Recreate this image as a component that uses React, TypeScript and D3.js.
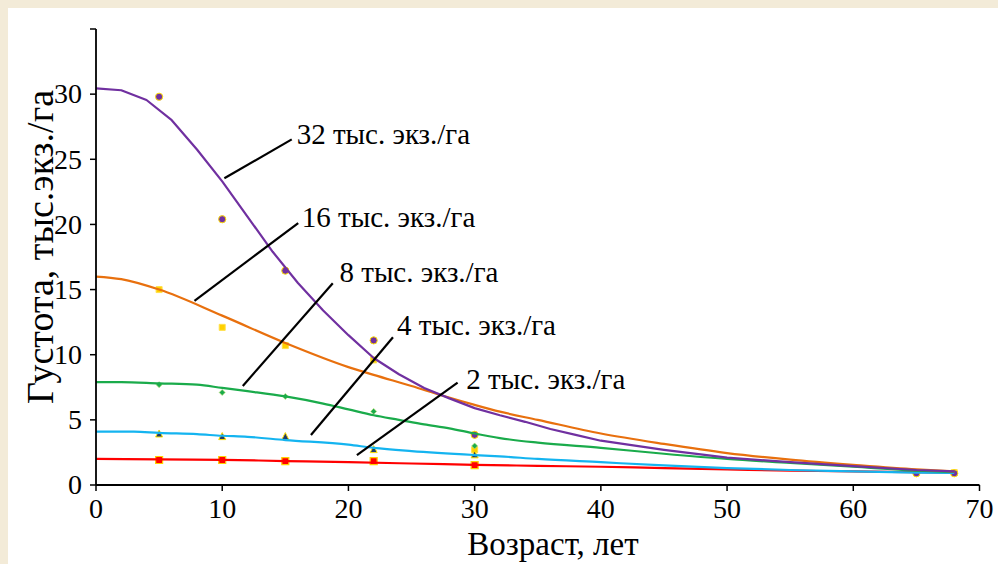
import React from "react";
import * as d3 from "d3";

// ---- model curves ----
const ages32 = [0, 2, 4, 6, 8, 10, 12, 14, 16, 18, 20, 22, 24, 26, 28, 30, 32, 34, 36, 38, 40, 45, 50, 55, 60, 65, 68];
const vals32 = [30.45, 30.3, 29.55, 28.0, 25.75, 23.3, 20.6, 17.9, 15.5, 13.4, 11.5, 9.75, 8.5, 7.45, 6.65, 5.9, 5.35, 4.85, 4.3, 3.85, 3.4, 2.7, 2.1, 1.75, 1.45, 1.15, 1.05];
const ages16 = [0, 2, 5, 10, 15, 20, 22, 25, 27.5, 30, 32, 35, 40, 45, 50, 55, 60, 65, 68];
const vals16 = [16.0, 15.8, 15.0, 13.0, 10.9, 9.05, 8.45, 7.6, 6.85, 6.15, 5.63, 5.0, 3.95, 3.15, 2.45, 1.95, 1.55, 1.2, 1.05];
const ages8 = [0, 2, 5, 8, 10, 12, 15, 18, 20, 22, 24, 26, 28, 30, 32, 35, 40, 45, 50, 55, 60, 65, 68];
const vals8 = [7.9, 7.9, 7.8, 7.7, 7.45, 7.2, 6.8, 6.25, 5.8, 5.35, 5.0, 4.65, 4.35, 3.95, 3.6, 3.25, 2.85, 2.4, 2.0, 1.7, 1.4, 1.1, 1.0];
const ages4 = [0, 3, 5, 8, 10, 12, 15, 20, 22, 25, 30, 32, 35, 40, 45, 50, 55, 60, 65, 68];
const vals4 = [4.1, 4.1, 4.0, 3.9, 3.78, 3.7, 3.45, 3.1, 2.85, 2.6, 2.3, 2.2, 2.0, 1.75, 1.5, 1.3, 1.15, 1.05, 0.95, 0.92];
const ages2 = [0, 5, 10, 15, 20, 25, 30, 35, 40, 45, 50, 55, 60, 65, 68];
const vals2 = [2.0, 1.97, 1.93, 1.84, 1.75, 1.65, 1.55, 1.47, 1.4, 1.3, 1.2, 1.1, 1.05, 0.98, 0.95];

// ---- observed points ----
const obsAges32 = [5, 10, 15, 22, 30, 65, 68];
const obsVals32 = [29.8, 20.4, 16.45, 11.1, 3.85, 0.9, 0.9];
const obsAges16 = [5, 10, 15, 22, 30, 68];
const obsVals16 = [15.0, 12.1, 10.7, 9.6, 2.7, 0.95];
const obsAges8 = [5, 10, 15, 22, 30];
const obsVals8 = [7.7, 7.1, 6.8, 5.65, 3.0];
const obsAges4 = [5, 10, 15, 22, 30];
const obsVals4 = [3.9, 3.7, 3.7, 2.7, 2.3];
const obsAges2 = [5, 10, 15, 22, 30];
const obsVals2 = [1.92, 1.92, 1.84, 1.84, 1.53];

// ---- annotations (data coords) ----
const labelTexts = ["32 тыс. экз./га", "16 тыс. экз./га", "8 тыс. экз./га", "4 тыс. экз./га", "2 тыс. экз./га"];
const leaderFrom = [[10.17, 23.54], [7.8, 14.14], [11.63, 7.6], [17.03, 3.84], [20.67, 2.3]];
const leaderTo = [[15.51, 26.53], [16.02, 20.1], [18.76, 15.48], [23.53, 11.34], [28.65, 7.85]];
const labelPos = [[15.9, 26.2], [16.31, 19.82], [19.29, 15.56], [23.85, 11.51], [29.34, 7.34]];

const xTicks = [0, 10, 20, 30, 40, 50, 60, 70];
const yTicks = [0, 5, 10, 15, 20, 25, 30, 35];
const yTickLabels = ["0", "5", "10", "15", "20", "25", "30", ""];

const W = 998;
const H = 564;
const tStyle = { fontFamily: "Liberation Serif" };

export default function App() {
  const x = d3.scaleLinear().domain([0, 70]).range([96, 979.5]);
  const y = d3.scaleLinear().domain([0, 35]).range([485, 29]);
  const line = (ages: number[], vals: number[], curve: d3.CurveFactory) =>
    d3
      .line<number>()
      .x((_, i) => x(ages[i]))
      .y((v) => y(v))
      .curve(curve)(vals) as string;

  const curves = [
    { a: ages2, v: vals2, c: "#ff0000", k: d3.curveMonotoneX },
    { a: ages4, v: vals4, c: "#14b4f0", k: d3.curveMonotoneX },
    { a: ages8, v: vals8, c: "#1aab4b", k: d3.curveMonotoneX },
    { a: ages16, v: vals16, c: "#e8700e", k: d3.curveMonotoneX },
    { a: ages32, v: vals32, c: "#7030a0", k: d3.curveLinear },
  ];

  const sq = (cx: number, cy: number, s: number) => `M${cx - s / 2},${cy - s / 2}h${s}v${s}h${-s}Z`;
  const tri = (cx: number, cy: number, s: number) =>
    `M${cx},${cy - s * 0.6}L${cx + s / 2},${cy + s * 0.4}L${cx - s / 2},${cy + s * 0.4}Z`;
  const dia = (cx: number, cy: number, s: number) =>
    `M${cx},${cy - s / 2}L${cx + s / 2},${cy}L${cx},${cy + s / 2}L${cx - s / 2},${cy}Z`;

  return (
    <svg width={W} height={H} style={{ position: "absolute", left: 0, top: 0, display: "block" }}>
      <rect x={0} y={0} width={W} height={H} fill="#f3ebd8" />
      <rect x={8} y={8} width={W - 8} height={H - 8} fill="#ffffff" />

      {/* observed markers */}
      {obsAges16.map((a, i) => (
        <path key={"o16" + i} d={sq(x(a), y(obsVals16[i]), 6)} fill="#ffd000" stroke="#ffe04a" strokeWidth={1} />
      ))}
      {obsAges8.map((a, i) => (
        <path key={"o8" + i} d={dia(x(a), y(obsVals8[i]), 6)} fill="#1aab4b" stroke="#b8e07a" strokeWidth={0.7} />
      ))}
      {obsAges4.map((a, i) => (
        <path key={"o4" + i} d={tri(x(a), y(obsVals4[i]), 7)} fill="#1f3a6e" stroke="#ffe000" strokeWidth={1} />
      ))}
      {obsAges2.map((a, i) => (
        <path key={"o2" + i} d={sq(x(a), y(obsVals2[i]), 7)} fill="#ff0000" stroke="#ffd000" strokeWidth={1.2} />
      ))}
      {obsAges32.map((a, i) => (
        <circle key={"o32" + i} cx={x(a)} cy={y(obsVals32[i])} r={3.6} fill="#7030a0" stroke="#ffe000" strokeWidth={1} />
      ))}

      {/* model curves */}
      {curves.map((c, i) => (
        <path key={"c" + i} d={line(c.a, c.v, c.k)} fill="none" stroke={c.c} strokeWidth={2.2} strokeLinejoin="round" />
      ))}

      {/* axes */}
      <line x1={x(0)} x2={x(70)} y1={y(0)} y2={y(0)} stroke="#000" strokeWidth={1.8} />
      <line x1={x(0)} x2={x(0)} y1={y(0)} y2={y(35)} stroke="#000" strokeWidth={1.8} />
      {xTicks.map((t) => (
        <g key={"xt" + t}>
          <line x1={x(t)} x2={x(t)} y1={y(0)} y2={y(0) + 6} stroke="#000" strokeWidth={1.5} />
          <text x={x(t)} y={518} textAnchor="middle" fontSize={28} fill="#000" style={tStyle}>
            {t}
          </text>
        </g>
      ))}
      {yTicks.map((t, i) => (
        <g key={"yt" + t}>
          <line x1={x(0) - 6} x2={x(0)} y1={y(t)} y2={y(t)} stroke="#000" strokeWidth={1.5} />
          <text x={82} y={y(t)} dy="0.33em" textAnchor="end" fontSize={28} fill="#000" style={tStyle}>
            {yTickLabels[i]}
          </text>
        </g>
      ))}

      {/* axis titles */}
      <text x={553} y={555} textAnchor="middle" fontSize={33} fill="#000" style={tStyle}>
        Возраст, лет
      </text>
      <text transform="translate(53,247) rotate(-90)" textAnchor="middle" fontSize={38} fill="#000" style={tStyle}>
        Густота, тыс.экз./га
      </text>

      {/* annotations */}
      {labelTexts.map((t, i) => (
        <g key={"lb" + i}>
          <line
            x1={x(leaderFrom[i][0])}
            y1={y(leaderFrom[i][1])}
            x2={x(leaderTo[i][0])}
            y2={y(leaderTo[i][1])}
            stroke="#000"
            strokeWidth={2.2}
          />
          <text x={x(labelPos[i][0])} y={y(labelPos[i][1])} fontSize={29} fill="#000" style={tStyle}>
            {t}
          </text>
        </g>
      ))}
    </svg>
  );
}
